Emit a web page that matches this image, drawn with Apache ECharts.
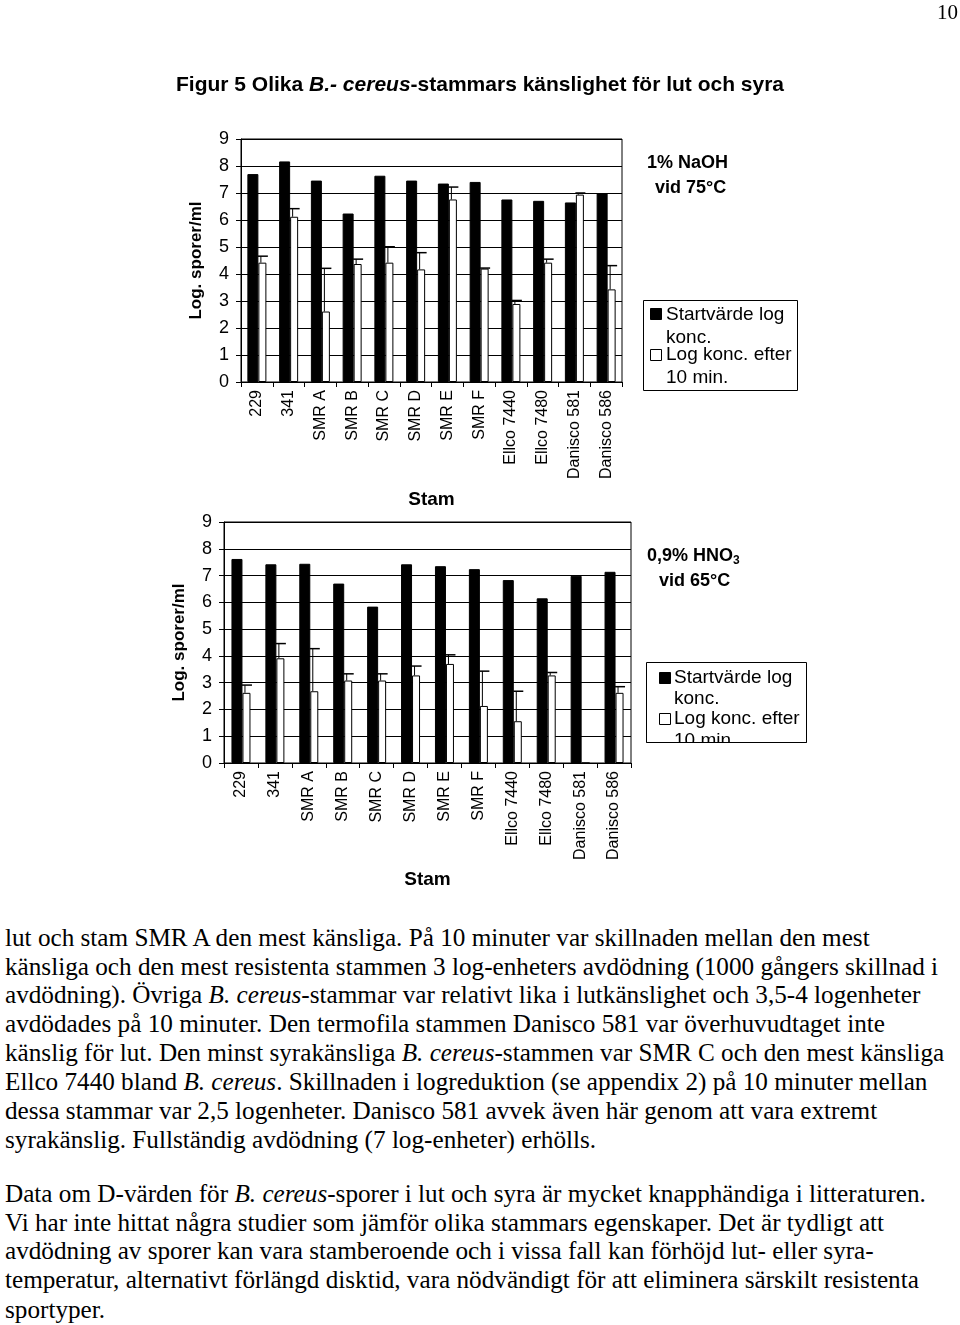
<!DOCTYPE html>
<html>
<head>
<meta charset="utf-8">
<script src="https://cdn.jsdelivr.net/npm/echarts@6/dist/echarts.min.js"></script>
<style>
html,body{margin:0;padding:0;background:#fff;}
#page{position:relative;width:960px;height:1325px;overflow:hidden;background:#fff;}
#chart{position:absolute;left:0;top:0;width:960px;height:910px;z-index:1;}
.serif{position:absolute;font-family:"Liberation Serif","Times New Roman",serif;font-size:25.2px;line-height:29px;white-space:nowrap;color:#000;z-index:2;}
#title{position:absolute;left:176px;top:72px;font-family:"Liberation Sans",Arial,sans-serif;font-weight:bold;font-size:21px;white-space:nowrap;z-index:2;}
</style>
</head>
<body>
<div id="page">
<div id="chart"></div>
<div class="serif" style="left:937px;top:-2px;font-size:21px;">10</div>
<div id="title">Figur 5 Olika <i>B.- cereus</i>-stammars känslighet för lut och syra</div>
<div class="serif" style="left:5px;top:923px;">lut och stam SMR A den mest känsliga. På 10 minuter var skillnaden mellan den mest</div>
<div class="serif" style="left:5px;top:952px;">känsliga och den mest resistenta stammen 3 log-enheters avdödning (1000 gångers skillnad i</div>
<div class="serif" style="left:5px;top:980px;">avdödning). Övriga <i>B. cereus</i>-stammar var relativt lika i lutkänslighet och 3,5-4 logenheter</div>
<div class="serif" style="left:5px;top:1009px;">avdödades på 10 minuter. Den termofila stammen Danisco 581 var överhuvudtaget inte</div>
<div class="serif" style="left:5px;top:1038px;">känslig för lut. Den minst syrakänsliga <i>B. cereus</i>-stammen var SMR C och den mest känsliga</div>
<div class="serif" style="left:5px;top:1067px;">Ellco 7440 bland <i>B. cereus</i>. Skillnaden i logreduktion (se appendix 2) på 10 minuter mellan</div>
<div class="serif" style="left:5px;top:1096px;">dessa stammar var 2,5 logenheter. Danisco 581 avvek även här genom att vara extremt</div>
<div class="serif" style="left:5px;top:1125px;">syrakänslig. Fullständig avdödning (7 log-enheter) erhölls.</div>
<div class="serif" style="left:5px;top:1179px;">Data om D-värden för <i>B. cereus</i>-sporer i lut och syra är mycket knapphändiga i litteraturen.</div>
<div class="serif" style="left:5px;top:1208px;">Vi har inte hittat några studier som jämför olika stammars egenskaper. Det är tydligt att</div>
<div class="serif" style="left:5px;top:1236px;">avdödning av sporer kan vara stamberoende och i vissa fall kan förhöjd lut- eller syra-</div>
<div class="serif" style="left:5px;top:1265px;">temperatur, alternativt förlängd disktid, vara nödvändigt för att eliminera särskilt resistenta</div>
<div class="serif" style="left:5px;top:1295px;">sportyper.</div>
</div>
<script>
// ---- data ----
const categories = ['229','341','SMR A','SMR B','SMR C','SMR D','SMR E','SMR F','Ellco 7440','Ellco 7480','Danisco 581','Danisco 586'];
const yTicks = [0,1,2,3,4,5,6,7,8,9];
// 1% NaOH vid 75 °C
const naohStart = [7.70, 8.17, 7.46, 6.24, 7.64, 7.46, 7.35, 7.41, 6.76, 6.71, 6.65, 6.98];
const naohAfter = [4.42, 6.12, 2.61, 4.37, 4.42, 4.17, 6.76, 4.20, 2.89, 4.42, 6.94, 3.43];
const naohErr   = [0.24, 0.30, 1.60, 0.18, 0.59, 0.62, 0.46, 0.02, 0.13, 0.13, 0.06, 0.88];
// 0,9% HNO3 vid 65 °C
const hno3Start = [7.62, 7.42, 7.44, 6.70, 5.84, 7.42, 7.35, 7.24, 6.83, 6.15, 6.99, 7.14];
const hno3After = [2.62, 3.91, 2.68, 3.08, 3.08, 3.27, 3.70, 2.13, 1.56, 3.27, 0, 2.62];
const hno3Err   = [0.29, 0.55, 1.59, 0.25, 0.25, 0.35, 0.34, 1.30, 1.12, 0.11, 0, 0.23];
const seriesNames = ['Startvärde log konc.', 'Log konc. efter 10 min.'];

const SANS = '"Liberation Sans", Arial, sans-serif';
const chart = echarts.init(document.getElementById('chart'), null, {renderer:'canvas'});

function xAxisDef(gridIndex, gap){
  return {
    type:'category', gridIndex, data: categories,
    name:'Stam', nameLocation:'middle', nameGap: gap,
    nameTextStyle:{fontFamily:SANS, fontWeight:'bold', fontSize:19, color:'#000'},
    axisLine:{show:true, lineStyle:{color:'#000', width:1}},
    axisTick:{show:true, length:5, alignWithLabel:false, lineStyle:{color:'#000'}},
    axisLabel:{rotate:90, interval:0, margin:8, fontFamily:SANS, fontSize:16, color:'#000'},
    splitLine:{show:false}
  };
}
function yAxisDef(gridIndex){
  return {
    type:'value', gridIndex, min:0, max:9, interval:1,
    name:'Log. sporer/ml', nameLocation:'middle', nameGap:36,
    nameTextStyle:{fontFamily:SANS, fontWeight:'bold', fontSize:17, color:'#000'},
    axisLine:{show:true, lineStyle:{color:'#000', width:1}},
    axisTick:{show:true, length:5, lineStyle:{color:'#000'}},
    axisLabel:{margin:12, fontFamily:SANS, fontSize:18, color:'#000',
      formatter: v => yTicks.includes(v) ? String(v) : ''},
    splitLine:{show:true, lineStyle:{color:'#000', width:1}}
  };
}
function errSeries(idx, after, err){
  return {
    type:'custom', xAxisIndex:idx, yAxisIndex:idx, z:5,
    data: after.map((v,i) => [i, v, v + err[i]]),
    renderItem(params, api){
      const i = api.value(0), v = api.value(1), t = api.value(2);
      if (t - v <= 0) return null;
      const p0 = api.coord([i, v]);
      const p1 = api.coord([i, t]);
      const cx = p0[0] + 4;
      return {type:'group', children:[
        {type:'line', shape:{x1:cx, y1:p0[1], x2:cx, y2:p1[1]}, style:{stroke:'#000', lineWidth:1}},
        {type:'line', shape:{x1:cx-3, y1:p1[1], x2:cx+7, y2:p1[1]}, style:{stroke:'#000', lineWidth:1.5}}
      ]};
    }
  };
}
function barPair(idx, start, after){
  return [
    {type:'bar', name:seriesNames[0], xAxisIndex:idx, yAxisIndex:idx, data:start, barWidth:11, barGap:'0%',
     itemStyle:{color:'#000', borderColor:'#000', borderWidth:1}, emphasis:{disabled:true}},
    {type:'bar', name:seriesNames[1], xAxisIndex:idx, yAxisIndex:idx, data:after, barWidth:8, barGap:'0%',
     itemStyle:{color:'#fff', borderColor:'#000', borderWidth:1}, emphasis:{disabled:true}}
  ];
}
function txt(x, y, text, font, extra){
  return Object.assign({type:'text', z:50, style:{x, y, text, font, fill:'#000', textVerticalAlign:'middle'}}, extra||{});
}
const NF = '19px ' + SANS;
const BF = 'bold 18px ' + SANS;

const graphic = [
  // top annotation + legend
  txt(647, 163, '1% NaOH', BF),
  txt(655, 188, 'vid 75°C', BF),
  {type:'rect', z:50, shape:{x:643.5, y:300.5, width:154, height:90}, style:{fill:'#fff', stroke:'#000', lineWidth:1}},
  {type:'rect', z:51, shape:{x:650.5, y:308.5, width:11, height:11}, style:{fill:'#000', stroke:'#000', lineWidth:1}},
  txt(666, 315, 'Startvärde log', NF, {z:51}),
  txt(666, 338, 'konc.', NF, {z:51}),
  {type:'rect', z:51, shape:{x:650.5, y:349.5, width:11, height:11}, style:{fill:'#fff', stroke:'#000', lineWidth:1}},
  txt(666, 355, 'Log konc. efter', NF, {z:51}),
  txt(666, 378, '10 min.', NF, {z:51}),
  // bottom annotation + legend (last line clipped by box)
  {type:'text', z:50, style:{x:647, y:556, text:'0,9% HNO{s|3}', font:BF, fill:'#000', textVerticalAlign:'middle',
    rich:{s:{font:'bold 12px ' + SANS, fill:'#000', padding:[10,0,0,0]}}}},
  txt(659, 581, 'vid 65°C', BF),
  {type:'rect', z:50, shape:{x:646.5, y:662.5, width:160, height:80}, style:{fill:'#fff', stroke:'#000', lineWidth:1}},
  {type:'rect', z:51, shape:{x:659.5, y:672.5, width:11, height:11}, style:{fill:'#000', stroke:'#000', lineWidth:1}},
  txt(674, 678, 'Startvärde log', NF, {z:51}),
  txt(674, 699, 'konc.', NF, {z:51}),
  {type:'rect', z:51, shape:{x:659.5, y:713.5, width:11, height:11}, style:{fill:'#fff', stroke:'#000', lineWidth:1}},
  txt(674, 719, 'Log konc. efter', NF, {z:51}),
  txt(674, 741, '10 min.', NF, {z:51}),
  {type:'rect', z:52, shape:{x:640, y:743, width:180, height:20}, style:{fill:'#fff'}},
  {type:'line', z:53, shape:{x1:646.5, y1:742.5, x2:806.5, y2:742.5}, style:{stroke:'#000', lineWidth:1}}
];

chart.setOption({
  animation:false,
  backgroundColor:'transparent',
  grid:[
    {left:241, top:139, width:381, height:243, show:true, borderColor:'#000', borderWidth:1},
    {left:224, top:522, width:407, height:241, show:true, borderColor:'#000', borderWidth:1}
  ],
  xAxis:[xAxisDef(0, 108), xAxisDef(1, 107)],
  yAxis:[yAxisDef(0), yAxisDef(1)],
  series:[
    ...barPair(0, naohStart, naohAfter), errSeries(0, naohAfter, naohErr),
    ...barPair(1, hno3Start, hno3After), errSeries(1, hno3After, hno3Err)
  ],
  graphic
});
</script>
</body>
</html>
